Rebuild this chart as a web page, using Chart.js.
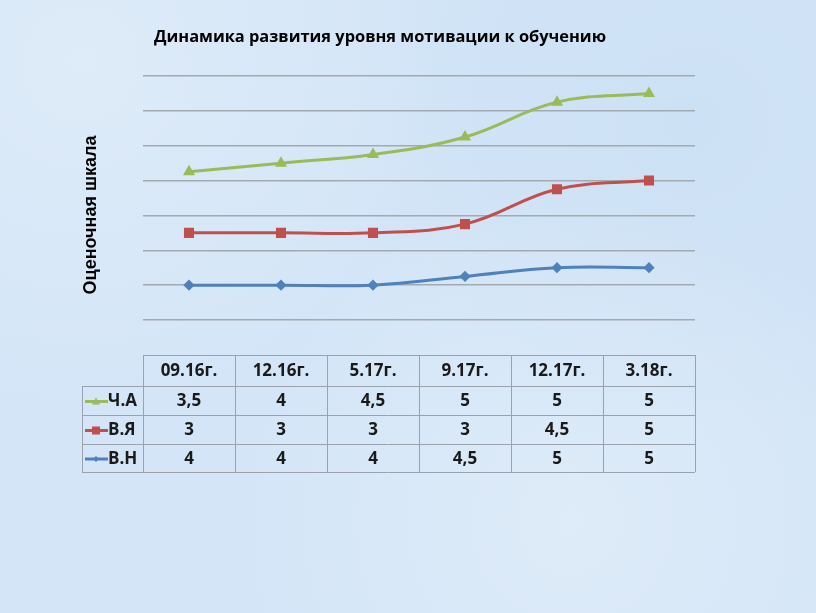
<!DOCTYPE html>
<html>
<head>
<meta charset="utf-8">
<script src="https://cdn.jsdelivr.net/npm/chart.js@4.4.1/dist/chart.umd.min.js"></script>
<style>
  html, body { margin: 0; padding: 0; }
  body {
    width: 816px; height: 613px; overflow: hidden;
    background-color: #d3e5f7;
    background-image:
      radial-gradient(circle at 10% 10%, rgba(255,255,255,0.25), rgba(255,255,255,0) 40%),
      radial-gradient(circle at 70% 85%, rgba(255,255,255,0.25), rgba(255,255,255,0) 45%),
      radial-gradient(circle at 85% 20%, rgba(190,215,240,0.3), rgba(190,215,240,0) 40%);
  }
  #wrap { position: absolute; left: 0; top: 0; width: 816px; height: 613px; }
</style>
</head>
<body>
<div id="wrap"><canvas id="graphique" width="816" height="613"></canvas></div>
<script>
// donnees du graphique
var periodes = ['09.16г.', '12.16г.', '5.17г.', '9.17г.', '12.17г.', '3.18г.'];
var serieCA = [3.5, 4, 4.5, 5, 5, 5];   // Ч.А
var serieVYa = [3, 3, 3, 3, 4.5, 5];    // В.Я
var serieVN = [4, 4, 4, 4.5, 5, 5];     // В.Н
var titre = 'Динамика развития уровня мотивации к обучению';
var titreAxe = 'Оценочная шкала';

var couleurs = { ca: '#9bbb59', vya: '#c0504d', vn: '#4f81bd' };

// lignes du tableau (ordre d'affichage)
var lignesTableau = [
    { nom: 'Ч.А', data: serieCA, couleur: couleurs.ca, forme: 'triangle' },
    { nom: 'В.Я', data: serieVYa, couleur: couleurs.vya, forme: 'rect' },
    { nom: 'В.Н', data: serieVN, couleur: couleurs.vn, forme: 'rectRot' }
];

function formatNombre(v) {
    return String(v).replace('.', ',');
}

function dessinerMarqueur(ctx, forme, x, y, couleur) {
    ctx.save();
    ctx.fillStyle = couleur;
    ctx.beginPath();
    if (forme === 'triangle') {
        ctx.moveTo(x, y - 4);
        ctx.lineTo(x + 4, y + 3);
        ctx.lineTo(x - 4, y + 3);
    } else if (forme === 'rect') {
        ctx.rect(x - 4, y - 4, 8, 8);
    } else {
        ctx.moveTo(x, y - 3);
        ctx.lineTo(x + 3, y);
        ctx.lineTo(x, y + 3);
        ctx.lineTo(x - 3, y);
    }
    ctx.closePath();
    ctx.fill();
    ctx.restore();
}

// plugin pour titre, titre d'axe et tableau de donnees
var pluginTableau = {
    id: 'tableau',
    afterDraw: function(chart) {
        var ctx = chart.ctx;
        var area = chart.chartArea;
        var xs = chart.scales.x;

        ctx.save();
        // titre
        ctx.fillStyle = '#000';
        ctx.textAlign = 'center';
        ctx.textBaseline = 'middle';
        ctx.font = 'bold 17px "Open Sans"';
        var larg = ctx.measureText(titre).width;
        var taille = 17 * 452 / larg;
        ctx.font = 'bold ' + taille.toFixed(1) + 'px "Open Sans"';
        ctx.fillText(titre, 380, 37);

        // titre de l'axe
        ctx.save();
        ctx.translate(91, 215);
        ctx.rotate(-Math.PI / 2);
        ctx.font = 'bold 18px "Liberation Sans"';
        ctx.fillText(titreAxe, 0, 0);
        ctx.restore();

        // tableau
        var lignesY = [355, 386, 415, 444, 472];
        var gauche = 82;
        var largCol = (area.right - area.left) / periodes.length;

        ctx.strokeStyle = '#9aa3ad';
        ctx.lineWidth = 1;
        ctx.beginPath();
        // lignes horizontales
        ctx.moveTo(area.left, lignesY[0] + 0.5);
        ctx.lineTo(area.right, lignesY[0] + 0.5);
        for (var r = 1; r < lignesY.length; r++) {
            ctx.moveTo(gauche, lignesY[r] + 0.5);
            ctx.lineTo(area.right, lignesY[r] + 0.5);
        }
        // lignes verticales
        ctx.moveTo(gauche + 0.5, lignesY[1]);
        ctx.lineTo(gauche + 0.5, lignesY[4]);
        for (var c = 0; c <= periodes.length; c++) {
            var xc = Math.round(area.left + c * largCol) + 0.5;
            ctx.moveTo(xc, lignesY[0]);
            ctx.lineTo(xc, lignesY[4]);
        }
        ctx.stroke();

        ctx.fillStyle = '#1a1a1a';
        ctx.font = 'bold 17px "Open Sans"';
        periodes.forEach(function(p, i) {
            ctx.fillText(p, xs.getPixelForValue(i), (lignesY[0] + lignesY[1]) / 2 + 1);
        });

        lignesTableau.forEach(function(ligne, k) {
            var yc = (lignesY[k + 1] + lignesY[k + 2]) / 2 + 1;
            ligne.data.forEach(function(v, i) {
                ctx.fillStyle = '#1a1a1a';
                ctx.textAlign = 'center';
                ctx.fillText(formatNombre(v), xs.getPixelForValue(i), yc);
            });
            // cle de legende
            ctx.strokeStyle = ligne.couleur;
            ctx.lineWidth = 3;
            ctx.beginPath();
            ctx.moveTo(85, yc);
            ctx.lineTo(108, yc);
            ctx.stroke();
            dessinerMarqueur(ctx, ligne.forme, 96, yc, ligne.couleur);
            ctx.fillStyle = '#1a1a1a';
            ctx.textAlign = 'left';
            ctx.fillText(ligne.nom, 108, yc);
        });
        ctx.restore();
    }
};

var ctx = document.getElementById('graphique').getContext('2d');

var graphique = new Chart(ctx, {
    type: 'line',
    data: {
        labels: periodes,
        datasets: [{
            label: 'В.Н',
            data: serieVN,
            borderColor: couleurs.vn,
            backgroundColor: couleurs.vn,
            pointStyle: 'rectRot',
            pointRadius: 3.5,
            borderWidth: 3,
            tension: 0.4
        }, {
            label: 'В.Я',
            data: serieVYa,
            borderColor: couleurs.vya,
            backgroundColor: couleurs.vya,
            pointStyle: 'rect',
            pointRadius: 5,
            borderWidth: 3,
            tension: 0.4
        }, {
            label: 'Ч.А',
            data: serieCA,
            borderColor: couleurs.ca,
            backgroundColor: couleurs.ca,
            pointStyle: 'triangle',
            pointRadius: 4,
            borderWidth: 3,
            tension: 0.4
        }]
    },
    options: {
        responsive: false,
        animation: false,
        layout: {
            padding: { left: 143, right: 121, top: 76, bottom: 293 }
        },
        plugins: {
            legend: { display: false },
            title: { display: false },
            tooltip: { enabled: false }
        },
        scales: {
            x: {
                offset: true,
                grid: { display: false, drawTicks: false },
                border: { display: false },
                ticks: { display: false }
            },
            y: {
                stacked: true,
                min: 2,
                max: 16,
                ticks: { display: false, stepSize: 2 },
                grid: { color: '#a3a9b0', lineWidth: 1.5, drawTicks: false },
                border: { display: false }
            }
        }
    },
    plugins: [pluginTableau]
});
</script>
</body>
</html>
